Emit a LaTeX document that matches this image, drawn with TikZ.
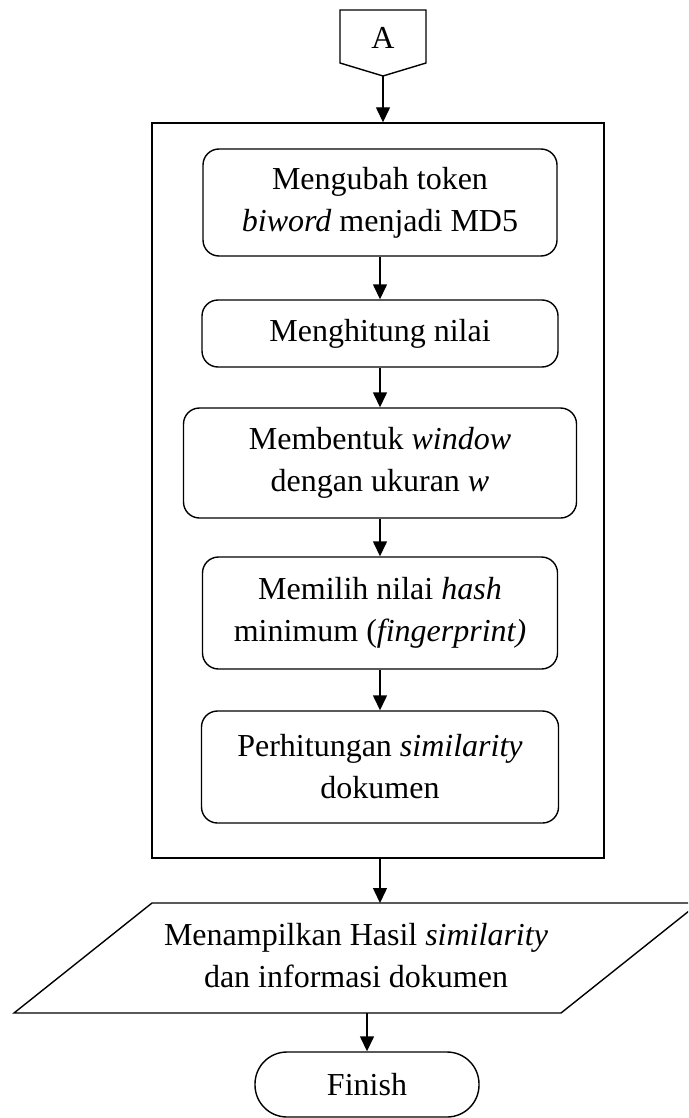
\documentclass[tikz,border=0pt]{standalone}
\usepackage{fontspec}
\setmainfont{Liberation Serif}
\usetikzlibrary{arrows.meta}
\begin{document}
\begin{tikzpicture}[x=1pt,y=-1pt,
  line width=1.4pt,
  every node/.style={font=\fontsize{32}{42}\selectfont, align=center, inner sep=0pt},
  procbox/.style={draw, rounded corners=16pt},
  arr/.style={-{Triangle[length=15pt,width=14pt]}},
]
\clip (0,0) rectangle (688,1118);

% off-page connector
\draw (340,10) -- (426,10) -- (426,63) -- (383,76) -- (340,63) -- cycle;
\coordinate (aTip) at (383,76);
\node (conA) at (383,38) {A};

% enclosing frame
\node[draw, minimum width=452pt, minimum height=735pt] (frame) at (378,490.5) {};

% process steps
\node[procbox, minimum width=354pt, minimum height=107pt] (b1) at (380,202.5)
  {Mengubah token\\\textit{biword} menjadi MD5};
\node[procbox, minimum width=356pt, minimum height=67pt] (b2) at (380,333.5)
  {Menghitung nilai};
\node[procbox, minimum width=393pt, minimum height=110pt] (b3) at (380,463)
  {Membentuk \textit{window}\\dengan ukuran \textit{w}};
\node[procbox, minimum width=355pt, minimum height=112pt] (b4) at (380,613)
  {Memilih nilai \textit{hash}\\minimum (\textit{fingerprint)}};
\node[procbox, minimum width=357pt, minimum height=112pt] (b5) at (380,767)
  {Perhitungan \textit{similarity}\\dokumen};

% output parallelogram
\coordinate (pTL) at (152,903);
\coordinate (pTR) at (699,903);
\coordinate (pBR) at (561,1013);
\coordinate (pBL) at (14,1013);
\draw (pTL) -- (pTR) -- (pBR) -- (pBL) -- cycle;
\node (out) at (356,956) {Menampilkan Hasil \textit{similarity}\\dan informasi dokumen};

% terminal
\node[draw, rounded corners=32pt, minimum width=224pt, minimum height=65pt] (fin) at (367,1084.5) {Finish};

% connectors
\draw[arr] (aTip) -- (aTip |- frame.north);
\draw[arr] (b1.south) -- (b2.north);
\draw[arr] (b2.south) -- (b3.north);
\draw[arr] (b3.south) -- (b4.north);
\draw[arr] (b4.south) -- (b5.north);
\draw[arr] ([xshift=2pt]frame.south) -- ([xshift=2pt]frame.south |- pTL);
\draw[arr] (fin.north |- pBL) -- (fin.north);
\end{tikzpicture}
\end{document}
